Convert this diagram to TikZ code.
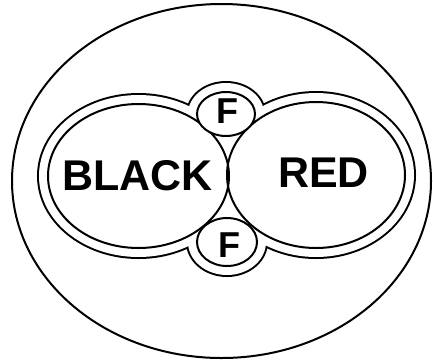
\documentclass[tikz,border=0pt]{standalone}
\usepackage{fontspec}
\setmainfont{Liberation Sans}
\usetikzlibrary{positioning}
\tikzset{
  ring/.style={line width=2pt,draw=black},
  hull/.style={line width=4pt,draw=black},
  word/.style={inner sep=0pt,anchor=base,font=\bfseries\fontsize{43}{43}\selectfont},
  fword/.style={inner sep=0pt,anchor=base,font=\bfseries\fontsize{36}{36}\selectfont},
}
\begin{document}
\begin{tikzpicture}[x=1pt,y=-1pt]
  \useasboundingbox (0,0) rectangle (433,360);
  % outer ellipse
  \draw[ring] (221.5,181) ellipse [x radius=209.5,y radius=177];
  % outline round both lobes and both F rings
  \foreach \cx/\cy/\rx/\ry in {138.5/176/99.5/81,316/175/98/82,226/114/38/31,227/242/39/33}
    \draw[hull] (\cx,\cy) ellipse [x radius=\rx,y radius=\ry];
  \foreach \cx/\cy/\rx/\ry in {138.5/176/99.5/81,316/175/98/82,226/114/38/31,227/242/39/33}
    \fill[white] (\cx,\cy) ellipse [x radius=\rx,y radius=\ry];
  % lobes
  \draw[ring] (138.5,176) ellipse [x radius=90.5,y radius=72];
  \draw[ring] (316,175) ellipse [x radius=89,y radius=73];
  % F rings
  \draw[ring,fill=white] (226,114) ellipse [x radius=29,y radius=22];
  \draw[ring,fill=white] (227,242) ellipse [x radius=30,y radius=24];
  \node[word] (black) at (137.5,190) {BLACK};
  \node[word] (red) at (323.5,187) {RED};
  \node[fword] (ftop) at (227.5,123) {F};
  \node[fword] (fbot) at (229,257) {F};
\end{tikzpicture}
\end{document}
